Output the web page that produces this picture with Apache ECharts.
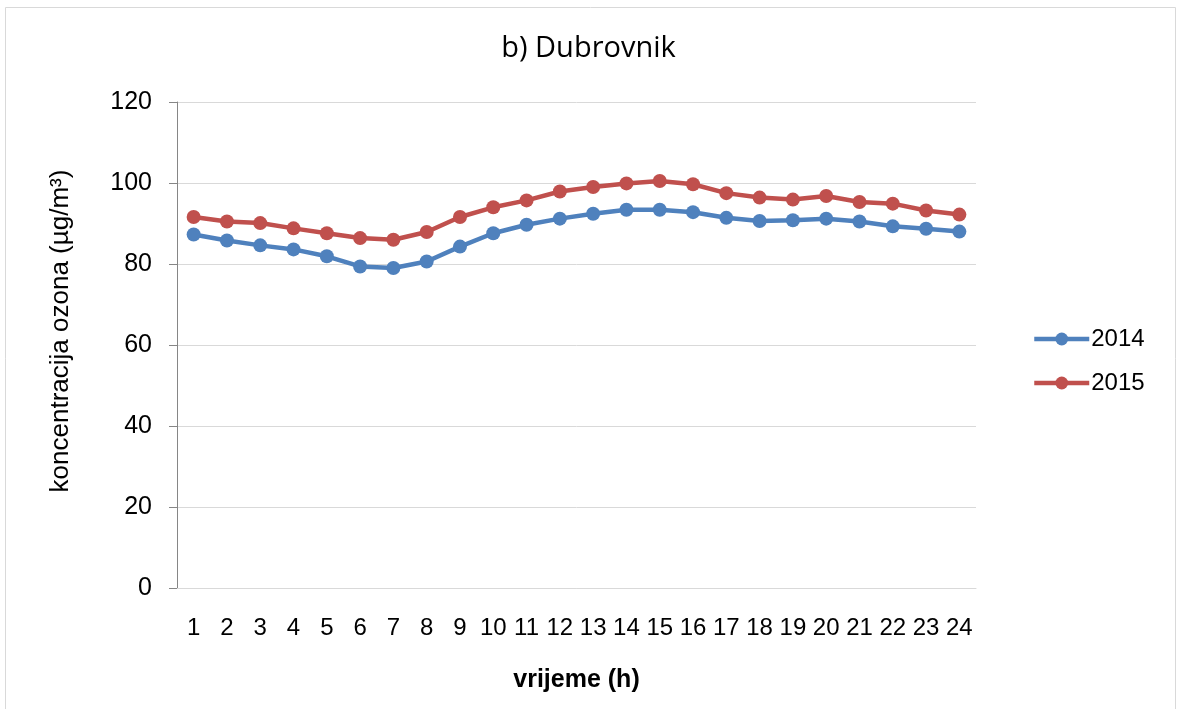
<!DOCTYPE html>
<html>
<head>
<meta charset="utf-8">
<script src="https://cdn.jsdelivr.net/npm/echarts@6/dist/echarts.min.js"></script>
<style>
html,body{margin:0;padding:0;background:#fff;}
#chart{width:1177px;height:709px;}
</style>
</head>
<body>
<div id="chart"></div>
<script>
const categories = ['1','2','3','4','5','6','7','8','9','10','11','12','13','14','15','16','17','18','19','20','21','22','23','24'];
const values2014 = [87.3,85.8,84.6,83.6,81.9,79.4,79.0,80.6,84.3,87.6,89.7,91.2,92.4,93.4,93.4,92.8,91.4,90.6,90.8,91.2,90.5,89.3,88.7,88.0];
const values2015 = [91.6,90.5,90.1,88.8,87.6,86.4,86.0,87.9,91.6,94.0,95.7,97.9,99.0,99.9,100.5,99.7,97.5,96.4,95.9,96.8,95.3,94.9,93.2,92.2];
const yTicks = [0,20,40,60,80,100,120];

const chart = echarts.init(document.getElementById('chart'));
const font = 'Liberation Sans, Arial, sans-serif';
chart.setOption({
  animation: false,
  textStyle: {fontFamily: font},
  graphic: [{
    type: 'rect', shape: {x: 5.5, y: 7.5, width: 1170, height: 720},
    style: {fill: 'none', stroke: '#d9d9d9', lineWidth: 1}, silent: true
  }],
  title: {
    text: 'b) Dubrovnik', left: 'center', top: 29,
    textStyle: {fontFamily: 'Open Sans, Liberation Sans, sans-serif', fontSize: 29, fontWeight: 'normal', color: '#000'}
  },
  legend: {
    orient: 'vertical', left: 1027, top: 322, itemGap: 20,
    itemWidth: 55, itemHeight: 16,
    lineStyle: {width: 4.5},
    textStyle: {fontFamily: font, fontSize: 24, color: '#000', padding: [0,0,0,-3]},
    data: ['2014','2015']
  },
  grid: {left: 177, right: 201, top: 102, bottom: 121, containLabel: false},
  xAxis: {
    type: 'category', data: categories, boundaryGap: true,
    name: 'vrijeme (h)', nameLocation: 'middle', nameGap: 80,
    nameTextStyle: {fontFamily: font, fontSize: 25, fontWeight: 'bold', color: '#000'},
    axisLine: {lineStyle: {color: '#d9d9d9', width: 1}},
    axisTick: {show: false},
    axisLabel: {fontFamily: font, fontSize: 24, color: '#000', margin: 28, interval: 0}
  },
  yAxis: {
    type: 'value', min: yTicks[0], max: yTicks[yTicks.length-1], interval: 20,
    name: 'koncentracija ozona (µg/m³)', nameLocation: 'middle', nameGap: 103, nameRotate: 90,
    nameTextStyle: {fontFamily: font, fontSize: 26, color: '#000', padding: [0,0,0,28]},
    axisLine: {show: true, lineStyle: {color: '#868686', width: 1}},
    axisTick: {show: true, length: 8, lineStyle: {color: '#868686'}},
    axisLabel: {fontFamily: font, fontSize: 25, color: '#000', margin: 25},
    splitLine: {lineStyle: {color: '#d9d9d9', width: 1}}
  },
  series: [
    {name: '2014', type: 'line', data: values2014, symbol: 'circle', symbolSize: 14,
     lineStyle: {color: '#4F81BD', width: 4.5}, itemStyle: {color: '#4F81BD'}},
    {name: '2015', type: 'line', data: values2015, symbol: 'circle', symbolSize: 14,
     lineStyle: {color: '#C0504D', width: 4.5}, itemStyle: {color: '#C0504D'}}
  ]
});
</script>
</body>
</html>
